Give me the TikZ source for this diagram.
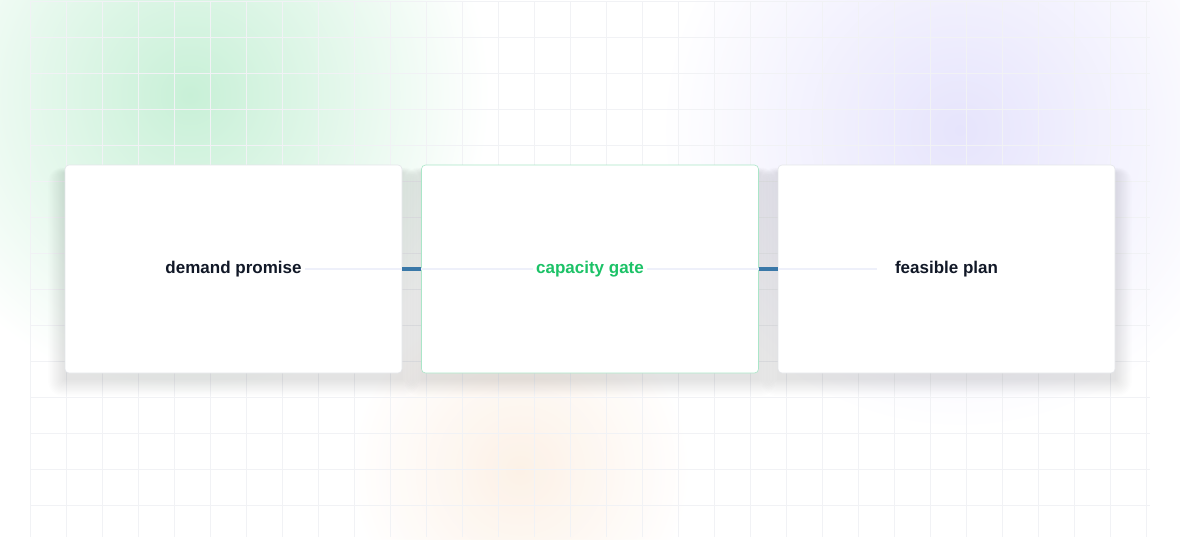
\documentclass[tikz,border=0pt]{standalone}
\usepackage{fontspec}
\setmainfont{Liberation Sans}
\definecolor{ink}{HTML}{111827}
\definecolor{gate}{HTML}{1CC267}
\definecolor{link}{HTML}{3A78A8}
\definecolor{faint}{HTML}{EEF0FA}
\definecolor{gridc}{HTML}{F1F2F5}
\definecolor{gateborder}{HTML}{AAE6C8}
\definecolor{cardborder}{HTML}{E4E6EA}
\definecolor{gglow}{HTML}{C8F0D7}
\definecolor{pglow}{HTML}{E6E4FC}
\definecolor{oglow}{HTML}{FCEEE1}
\tikzset{
  card/.style={draw=#1, line width=0.6pt, fill=white, rounded corners=4pt, minimum width=337pt, minimum height=208pt},
  lbl/.style={font=\bfseries\fontsize{17pt}{20pt}\selectfont, text=ink},
  link/.style={draw=link, line width=3.5pt}
}
\begin{document}
\begin{tikzpicture}[x=1pt,y=-1pt]
\useasboundingbox (0,0) rectangle (1180,539);
\fill[white] (0,0) rectangle (1180,539);
\shade[inner color=gglow, outer color=white] (190,95) circle (300);
\shade[inner color=pglow, outer color=white] (960,130) circle (300);
\shade[inner color=oglow, outer color=white, opacity=0.8] (520,470) circle (170);
\foreach \x in {30,66,...,1150} \draw[gridc, line width=0.5pt] (\x,1) -- (\x,537);
\foreach \y in {1,37,...,537} \draw[gridc, line width=0.5pt] (30,\y) -- (1150,\y);
\foreach \cx in {233.5,590,946.5}{
  \foreach \i in {1,...,14}
    \fill[black, opacity=0.006, rounded corners=\i pt] (\cx-168.5-\i*1.2,165-\i*0.4+8) rectangle (\cx+168.5+\i*1.2,373+\i*1.2+6);
}
\node[card=cardborder] (a) at (233.5,269) {};
\node[card=gateborder] (b) at (590,269) {};
\node[card=cardborder] (c) at (946.5,269) {};
\node[lbl] (ta) at (a) {demand promise};
\node[lbl, text=gate] (tb) at (b) {capacity gate};
\node[lbl] (tc) at (c) {feasible plan};
\draw[faint, line width=2.5pt] (ta.east) -- (tb.west);
\draw[faint, line width=2.5pt] (tb.east) -- ([xshift=-14pt]tc.west);
\draw[link] (a.east) -- (b.west);
\draw[link] (b.east) -- (c.west);
\end{tikzpicture}
\end{document}
